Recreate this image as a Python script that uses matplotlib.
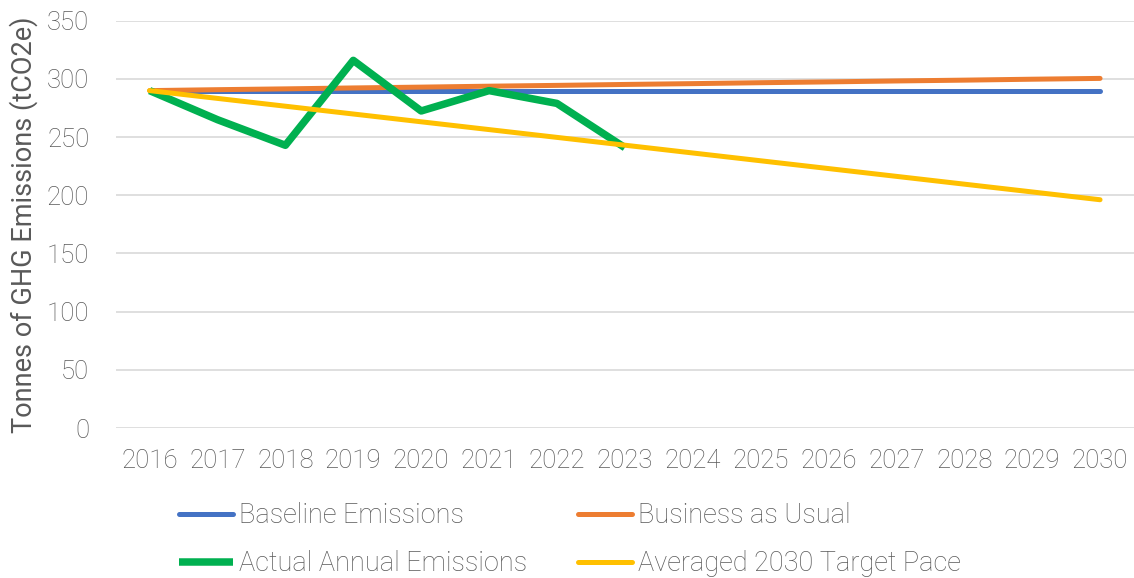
import matplotlib.pyplot as plt
import numpy as np

years = list(range(2016, 2031))
baseline = [290] * 15
business_as_usual = [290, 290.8, 291.5, 292.3, 293, 293.8, 294.5, 295.3, 296, 296.8, 297.5, 298.3, 299, 299.8, 300.5]
actual_years = list(range(2016, 2024))
actual = [290, 265, 243, 316, 272.5, 290, 279, 241]
target_pace = [290, 283.3, 276.6, 269.9, 263.2, 256.5, 249.8, 243.1, 236.4, 229.7, 223, 216.3, 209.6, 202.9, 196.2]

plt.rcParams['font.family'] = ['Roboto', 'DejaVu Sans']
plt.rcParams['font.weight'] = 'light'
grey = '#595959'

fig = plt.figure(figsize=(11.34, 5.78), dpi=100)
ax = fig.add_axes([0.102, 0.2595, 0.898, 0.7045])

l1, = ax.plot(years, baseline, color='#4472C4', lw=3.6, solid_capstyle='round', label='Baseline Emissions')
l2, = ax.plot(years, business_as_usual, color='#ED7D31', lw=3.6, solid_capstyle='round', label='Business as Usual')
l3, = ax.plot(actual_years, actual, color='#00B050', lw=5.4, solid_capstyle='butt', label='Actual Annual Emissions')
l4, = ax.plot(years, target_pace, color='#FFC000', lw=3.6, solid_capstyle='round', label='Averaged 2030 Target Pace')

ax.set_xlim(2015.5, 2030.5)
ax.set_ylim(0, 350)
ax.set_yticks(np.arange(0, 351, 50))
ax.set_xticks(years)
ax.grid(axis='y', color='#D9D9D9', lw=1.2)
ax.set_axisbelow(True)
for s in ax.spines.values():
    s.set_visible(False)
ax.tick_params(length=0, labelsize=18.5, colors=grey, pad=15)
ax.tick_params(axis='y', pad=19)
ax.set_ylabel('Tonnes of GHG Emissions (tCO2e)', fontsize=19.5, color=grey, labelpad=6)

# legend is filled column by column, so reorder to get row-wise layout
fig.legend([l1, l3, l2, l4], [l.get_label() for l in (l1, l3, l2, l4)],
           loc='lower left', bbox_to_anchor=(0.1365, -0.041), ncol=2, frameon=False,
           fontsize=19.5, labelcolor=grey, handlelength=2.0, handletextpad=0.2,
           columnspacing=1.9, labelspacing=0.77)

plt.savefig('out.png', dpi=100)
